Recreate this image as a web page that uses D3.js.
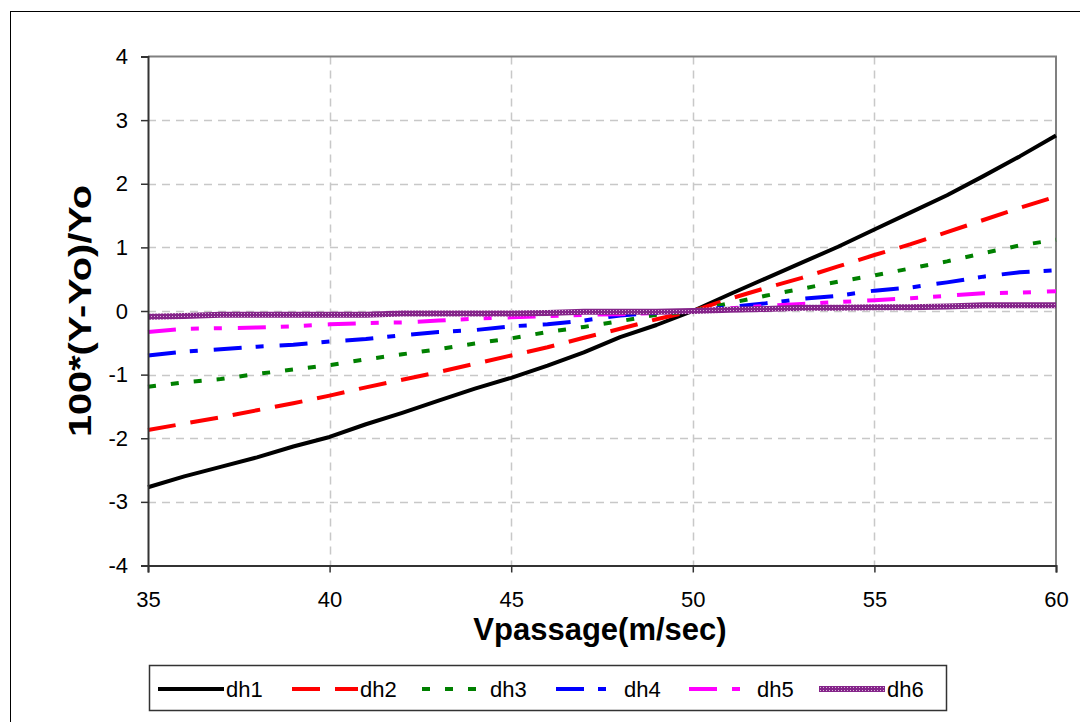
<!DOCTYPE html>
<html>
<head>
<meta charset="utf-8">
<script src="https://cdn.jsdelivr.net/npm/d3@7"></script>
<style>
  html, body { margin: 0; padding: 0; background: #fff; }
  svg { display: block; font-family: "Liberation Sans", Arial, sans-serif; }
</style>
</head>
<body>
<svg id="chart" width="1080" height="722"></svg>
<script>
// Passage velocity (m/sec)
const velocity = [35, 36, 37, 38, 39, 40, 41, 42, 43, 44, 45, 46, 47, 48, 49, 50,
                  51, 52, 53, 54, 55, 56, 57, 58, 59, 60];

// Relative change 100*(Y-Yo)/Yo for each dh case
const dh1 = [-2.77, -2.60, -2.45, -2.30, -2.13, -1.98, -1.78, -1.60, -1.41, -1.22, -1.05, -0.86, -0.65, -0.41, -0.22, 0,
             0.26, 0.51, 0.76, 1.01, 1.28, 1.55, 1.82, 2.12, 2.43, 2.76];
const dh2 = [-1.87, -1.77, -1.67, -1.56, -1.45, -1.33, -1.20, -1.08, -0.96, -0.83, -0.70, -0.57, -0.42, -0.28, -0.13, 0,
             0.19, 0.36, 0.52, 0.70, 0.88, 1.05, 1.24, 1.43, 1.62, 1.80];
const dh3 = [-1.19, -1.12, -1.07, -0.99, -0.92, -0.85, -0.76, -0.68, -0.60, -0.51, -0.43, -0.33, -0.25, -0.16, -0.06, 0,
             0.12, 0.24, 0.35, 0.46, 0.56, 0.67, 0.78, 0.91, 1.03, 1.12];
const dh4 = [-0.70, -0.64, -0.60, -0.56, -0.53, -0.48, -0.44, -0.38, -0.33, -0.30, -0.24, -0.21, -0.15, -0.07, -0.03, 0,
             0.06, 0.12, 0.19, 0.24, 0.32, 0.37, 0.45, 0.54, 0.61, 0.64];
const dh5 = [-0.33, -0.28, -0.27, -0.26, -0.24, -0.21, -0.19, -0.18, -0.15, -0.12, -0.10, -0.08, -0.06, -0.05, -0.03, 0,
             0.04, 0.08, 0.11, 0.14, 0.17, 0.20, 0.24, 0.28, 0.29, 0.31];
const dh6 = [-0.09, -0.08, -0.06, -0.06, -0.06, -0.06, -0.06, -0.04, -0.04, -0.04, -0.04, -0.03, -0.01, -0.01, -0.01, 0,
             0.02, 0.03, 0.05, 0.05, 0.06, 0.06, 0.07, 0.09, 0.09, 0.09];

const seriesNames = ["dh1", "dh2", "dh3", "dh4", "dh5", "dh6"];
const seriesValues = [dh1, dh2, dh3, dh4, dh5, dh6];

const xTicks = [35, 40, 45, 50, 55, 60];
const yTicks = [-4, -3, -2, -1, 0, 1, 2, 3, 4];

const xTitle = "Vpassage(m/sec)";
const yTitle = "100*(Y-Yo)/Yo";

// Line styles per series
const styles = [
  { color: "#000000", width: 4, dash: null },
  { color: "#ff0000", width: 4, dash: "28,15" },
  { color: "#008000", width: 4, dash: "8,15" },
  { color: "#0000ff", width: 4, dash: "28,14,8,16" },
  { color: "#ff00ff", width: 4, dash: "28,15,8,15,8,16" },
  { color: "url(#purpleTex)", width: 6, dash: null }
];

const svg = d3.select("#chart");

// textured purple stroke
const defs = svg.append("defs");
const pat = defs.append("pattern")
  .attr("id", "purpleTex")
  .attr("patternUnits", "userSpaceOnUse")
  .attr("width", 3).attr("height", 3);
pat.append("rect").attr("width", 3).attr("height", 3).attr("fill", "#85258a");
pat.append("rect").attr("x", 1).attr("y", 1).attr("width", 1).attr("height", 1).attr("fill", "#d8b8d8");

// outer frame
svg.append("rect")
  .attr("x", 10.5).attr("y", 11.5)
  .attr("width", 1100).attr("height", 760)
  .attr("fill", "none").attr("stroke", "#000").attr("stroke-width", 1);

const plot = { left: 148, right: 1056, top: 56.5, bottom: 565.5 };

const x = d3.scaleLinear().domain([35, 60]).range([plot.left, plot.right]);
const y = d3.scaleLinear().domain([-4, 4]).range([plot.bottom, plot.top]);

// gridlines
const grid = svg.append("g");
grid.selectAll(".hg").data(yTicks.filter(d => d > -4 && d < 4)).join("line")
  .attr("x1", plot.left).attr("x2", plot.right)
  .attr("y1", d => Math.round(y(d)) + 0.5).attr("y2", d => Math.round(y(d)) + 0.5)
  .attr("stroke", "#c8c8c8").attr("stroke-width", 1.5).attr("stroke-dasharray", "8,6");
grid.selectAll(".vg").data(xTicks.filter(d => d > 35 && d < 60)).join("line")
  .attr("x1", d => Math.round(x(d)) + 0.5).attr("x2", d => Math.round(x(d)) + 0.5)
  .attr("y1", plot.top).attr("y2", plot.bottom)
  .attr("stroke", "#c8c8c8").attr("stroke-width", 1.5).attr("stroke-dasharray", "8,6");

// plot area border (top & right)
svg.append("path")
  .attr("d", `M${plot.left},${plot.top}H${plot.right}V${plot.bottom}`)
  .attr("fill", "none").attr("stroke", "#808080").attr("stroke-width", 2);

// series lines
const line = d3.line().x((d, i) => x(velocity[i])).y(d => y(d));
const lines = svg.append("g");
seriesValues.forEach((vals, k) => {
  const s = styles[k];
  lines.append("path")
    .datum(vals)
    .attr("d", line)
    .attr("fill", "none")
    .attr("stroke", s.color)
    .attr("stroke-width", s.width)
    .attr("stroke-dasharray", s.dash)
    .attr("stroke-linejoin", "round");
});

// axes
const xAxis = svg.append("g")
  .attr("transform", `translate(0,${plot.bottom})`)
  .call(d3.axisBottom(x).tickValues(xTicks).tickSize(7).tickPadding(19).tickFormat(d3.format("d")));
const yAxis = svg.append("g")
  .attr("transform", `translate(${plot.left},0)`)
  .call(d3.axisLeft(y).tickValues(yTicks).tickSize(7).tickPadding(13).tickFormat(d3.format("d")));
[xAxis, yAxis].forEach(g => {
  g.select(".domain").attr("stroke", "#333").attr("stroke-width", 2);
  g.selectAll(".tick line").attr("stroke", "#333").attr("stroke-width", 1.5);
  g.selectAll(".tick text").attr("fill", "#000")
    .style("font-family", "'Liberation Sans', Arial, sans-serif").style("font-size", "22px");
});
yAxis.selectAll(".tick text").text(d => d < 0 ? "-" + Math.abs(d) : d);

// axis titles
svg.append("text")
  .attr("x", (plot.left + plot.right) / 2 - 2).attr("y", 640)
  .attr("text-anchor", "middle")
  .style("font-size", "31px").style("font-weight", "bold")
  .text(xTitle);
svg.append("text")
  .attr("transform", `translate(91,${(plot.top + plot.bottom) / 2}) rotate(-90)`)
  .attr("text-anchor", "middle")
  .attr("textLength", 252)
  .attr("lengthAdjust", "spacingAndGlyphs")
  .style("font-size", "32px").style("font-weight", "bold")
  .text(yTitle);

// legend
const legend = svg.append("g");
legend.append("rect")
  .attr("x", 149.5).attr("y", 665.5).attr("width", 797).attr("height", 45)
  .attr("fill", "#fff").attr("stroke", "#333").attr("stroke-width", 1.5);
const itemX = [158, 292, 422, 556, 689, 819];
seriesNames.forEach((name, k) => {
  const s = styles[k];
  const g = legend.append("g").attr("transform", `translate(${itemX[k]},689)`);
  g.append("line").attr("x1", 0).attr("x2", 66).attr("y1", 0).attr("y2", 0)
    .attr("stroke", s.color).attr("stroke-width", s.width)
    .attr("stroke-dasharray", s.dash);
  g.append("text").attr("x", 68).attr("y", 8)
    .style("font-size", "22px").text(name);
});
</script>
</body>
</html>
